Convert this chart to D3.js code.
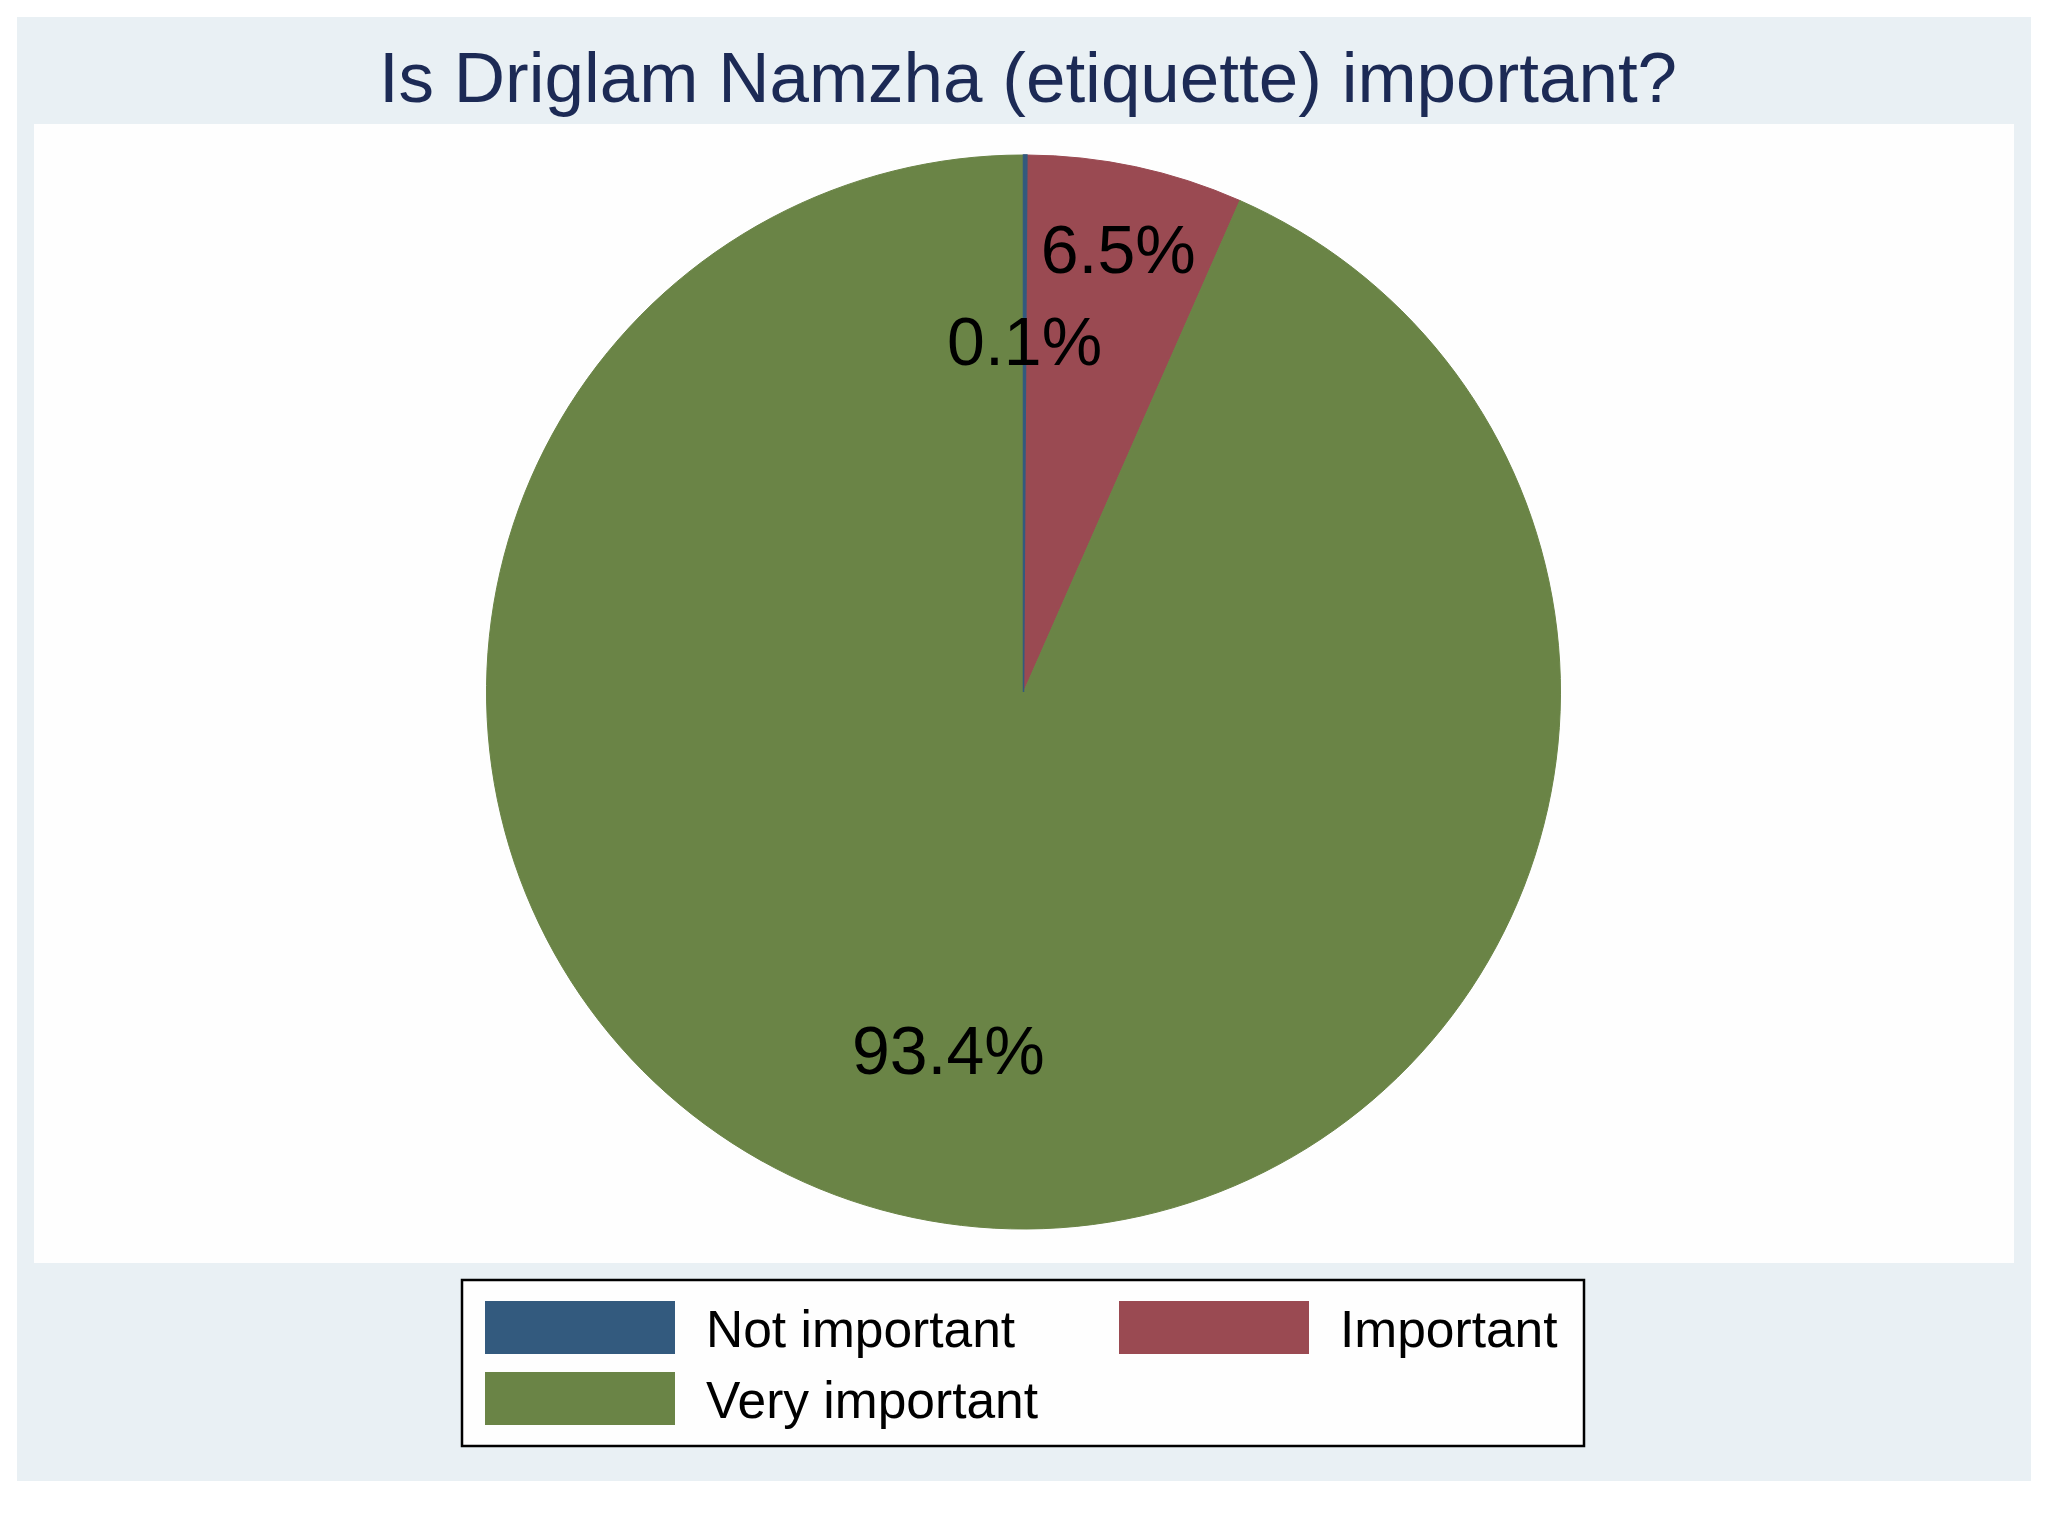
<!DOCTYPE html>
<html>
<head>
<meta charset="utf-8">
<script src="https://cdn.jsdelivr.net/npm/d3@7"></script>
<style>
  body { margin: 0; background: #ffffff; }
  svg { display: block; font-family: "Liberation Sans", Arial, sans-serif; }
</style>
</head>
<body>
<div id="chart"></div>
<script>
// data
const categories = ["Not important", "Important", "Very important"];
const percents = [0.1, 6.5, 93.4];
const labels = ["0.1%", "6.5%", "93.4%"];
const colours = ["#335a7e", "#9a4a52", "#6a8446"];
const title = "Is Driglam Namzha (etiquette) important?";

let w = 2048;
let h = 1536;

let svg = d3.select("#chart")
            .append("svg")
            .attr("width", w)
            .attr("height", h);

// outer graph region and inner plot region
svg.append("rect")
    .attr("x", 17).attr("y", 17)
    .attr("width", 2014).attr("height", 1464)
    .attr("fill", "#e9f0f4");

svg.append("rect")
    .attr("x", 34).attr("y", 124)
    .attr("width", 1980).attr("height", 1139)
    .attr("fill", "#fefefe");

svg.append("text")
    .text(title)
    .attr("x", 1028)
    .attr("y", 102)
    .attr("text-anchor", "middle")
    .attr("font-size", 71)
    .attr("fill", "#1c2a55");

// pie
let cx = 1023.5, cy = 692, r = 537;
// how far out each label sits, as a share of the radius
let labelFrac = [0.655, 0.845, 0.68];

let pie = d3.pie().sort(null).value(d => d);
let arcs = pie(percents);

let arc = d3.arc().innerRadius(0).outerRadius(r);

let g = svg.append("g")
    .attr("transform", "translate(" + cx + "," + cy + ")");

g.selectAll("path")
    .data(arcs)
    .enter()
    .append("path")
    .attr("d", arc)
    .attr("fill", (d, i) => colours[i])
    .attr("stroke", (d, i) => colours[i])
    .attr("stroke-width", 1);

// thin slice drawn again on top so it stays visible
g.append("path")
    .attr("d", arc(arcs[0]))
    .attr("fill", colours[0])
    .attr("stroke", colours[0])
    .attr("stroke-width", 1.5);

function labelPos(d, i) {
    let lr = r * labelFrac[i];
    return d3.arc().innerRadius(lr).outerRadius(lr).centroid(d);
}

g.selectAll("text.plabel")
    .data(arcs)
    .enter()
    .append("text")
    .attr("class", "plabel")
    .text((d, i) => labels[i])
    .attr("x", (d, i) => labelPos(d, i)[0])
    .attr("y", (d, i) => labelPos(d, i)[1])
    .attr("dy", "0.36em")
    .attr("text-anchor", "middle")
    .attr("font-size", 68)
    .attr("fill", "#000");

// legend
let legend = svg.append("g");

legend.append("rect")
    .attr("x", 462).attr("y", 1280)
    .attr("width", 1122).attr("height", 166)
    .attr("fill", "#fefefe")
    .attr("stroke", "#000")
    .attr("stroke-width", 2.5);

let colX = [485, 1119];
let rowY = [1301, 1372];

let items = legend.selectAll("g.item")
    .data(categories)
    .enter()
    .append("g")
    .attr("class", "item")
    .attr("transform", (d, i) => "translate(" + colX[i % 2] + "," + rowY[Math.floor(i / 2)] + ")");

items.append("rect")
    .attr("width", 190)
    .attr("height", 53)
    .attr("fill", (d, i) => colours[i]);

items.append("text")
    .text(d => d)
    .attr("x", 221)
    .attr("y", 46)
    .attr("font-size", 51.5)
    .attr("fill", "#000");
</script>
</body>
</html>
